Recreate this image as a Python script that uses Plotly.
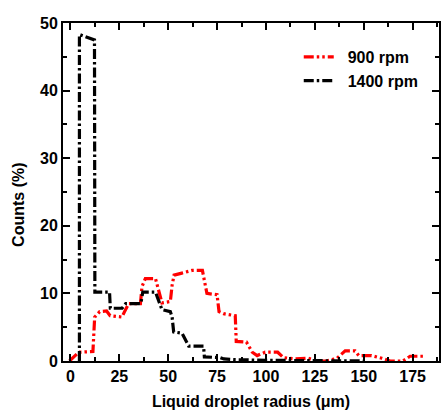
import plotly.graph_objects as go

# 900 rpm (red) - polyline vertices
r900_x = [-0.5, 4.3, 11.5, 12.4, 15.0, 18.5, 20.3, 26.4, 27.5, 29.8, 35.8, 36.6, 38.3, 43.5, 46.8,
          51.1, 52.0, 53.0, 57.0, 62.2, 67.5, 69.8, 75.0, 76.0, 78.3, 83.4, 84.3, 84.8, 90.0,
          93.0, 95.5, 99.6, 106.0, 109.0, 115.0, 121.6, 126.0, 131.0, 136.3, 140.5, 145.6,
          147.5, 154.0, 159.3, 163.5, 170.0, 173.7, 180.5]
r900_y = [0.0, 1.3, 1.4, 6.5, 7.3, 7.4, 6.7, 6.5, 7.2, 8.5, 8.5, 11.0, 12.2, 12.2, 8.6,
          8.8, 11.2, 12.7, 13.0, 13.4, 13.4, 10.0, 9.8, 7.3, 7.0, 6.8, 6.7, 2.9, 2.8,
          1.3, 0.8, 1.3, 1.3, 0.5, 0.3, 0.4, 0.0, 0.0, 0.4, 1.5, 1.5,
          0.8, 0.8, 0.4, 0.0, 0.0, 0.7, 0.7]

# 1400 rpm (black)
r1400_x = [4.6, 4.6, 12.3, 12.5, 20.0, 20.4, 26.4, 28.3, 36.0, 37.0, 43.5, 46.8, 51.1, 52.0,
           52.8, 57.1, 60.5, 68.1, 68.5, 76.6, 78.5, 84.0, 100.0, 125.0, 145.0, 150.0]
r1400_y = [0.0, 48.3, 47.5, 10.2, 10.2, 7.8, 7.8, 8.5, 8.5, 10.2, 10.2, 7.6, 7.3, 6.5,
           4.3, 4.1, 2.2, 2.2, 0.6, 0.5, 0.3, 0.2, 0.1, 0.1, 0.1, 0.0]

series_names = ["900 rpm", "1400 rpm"]
x_title = "Liquid droplet radius (μm)"
y_title = "Counts (%)"

FONT = "Liberation Sans, Arial, sans-serif"
PAD = "\u00a0\u00a0"

fig = go.Figure()
fig.add_trace(go.Scatter(
    x=r900_x, y=r900_y, mode="lines", name=PAD + "<b>" + series_names[0] + "</b>",
    line=dict(color="#ff0000", width=3.2, dash="10px,3px,2.5px,3px,2.5px,3px"),
))
fig.add_trace(go.Scatter(
    x=r1400_x, y=r1400_y, mode="lines", name=PAD + "<b>" + series_names[1] + "</b>",
    line=dict(color="#000000", width=3.2, dash="10px,3px,2.5px,3px"),
))

axis_common = dict(
    showline=True, linecolor="black", linewidth=2, mirror="ticks",
    ticks="inside", ticklen=7, tickwidth=1.5, tickcolor="black",
    showgrid=False, zeroline=False,
    tickfont=dict(family=FONT, size=16, color="black"),
)

fig.update_xaxes(
    range=[-3.8, 188.5], tick0=0, dtick=25,
    minor=dict(ticks="inside", dtick=12.5, ticklen=4, tickwidth=1.5, tickcolor="black"),
    title=dict(text="<b>" + x_title + "</b>", font=dict(family=FONT, size=16, color="black"), standoff=12),
    tickprefix="<b>", ticksuffix="</b>",
    **axis_common,
)
fig.update_yaxes(
    range=[0, 50], tick0=0, dtick=10,
    minor=dict(ticks="inside", dtick=5, ticklen=4, tickwidth=1.5, tickcolor="black"),
    tickprefix="<b>", ticksuffix="</b>",
    **axis_common,
)

fig.add_annotation(
    text="<b>" + y_title + "</b>", textangle=-90,
    xref="paper", yref="paper", x=-0.12, y=0.4615,
    xanchor="center", yanchor="middle", showarrow=False,
    font=dict(family=FONT, size=16, color="black"),
)

fig.update_layout(
    width=441, height=414,
    margin=dict(l=63, r=2, t=23, b=53, autoexpand=False),
    paper_bgcolor="white", plot_bgcolor="white",
    font=dict(family=FONT, size=15, color="black"),
    legend=dict(
        x=0.627, y=0.95, xanchor="left", yanchor="top",
        bgcolor="rgba(0,0,0,0)",
        font=dict(family=FONT, size=16, color="black"),
    ),
)

fig.write_html(
    "out.html",
    config={"displayModeBar": False},
    post_script="document.body.style.margin='0';document.body.style.overflow='hidden';",
)
